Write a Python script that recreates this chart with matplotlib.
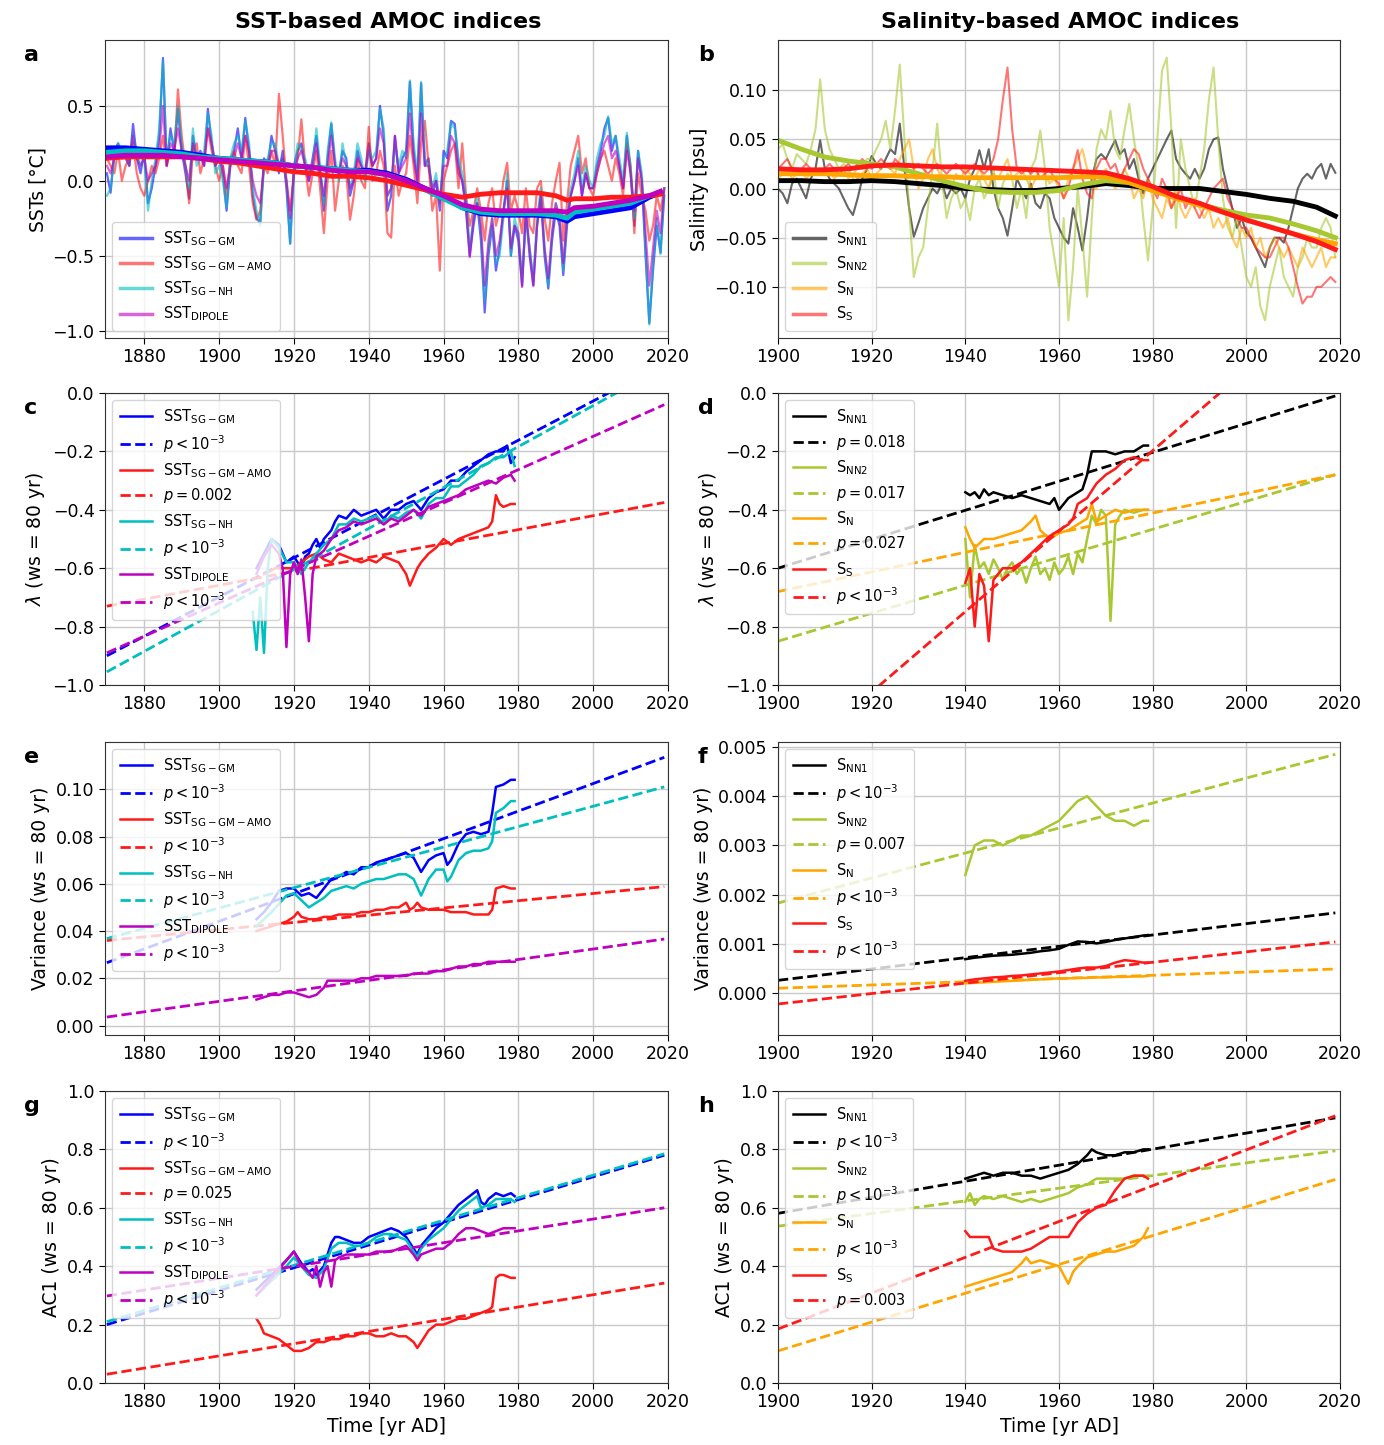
import numpy as np
import matplotlib
matplotlib.use("Agg")
import matplotlib.pyplot as plt

# ---------------- DATA ----------------
yrs_a = np.arange(1870, 2020)
sst_gm = [0.05, -0.08, 0.2, 0.25, 0.15, 0.2, 0.1, 0.38, 0.15, 0.05,
          0.2, -0.15, -0.05, 0.1, 0.3, 0.82, 0.1, 0.35, 0.2, 0.48,
          0.2, 0.05, -0.12, 0.3, 0.15, 0.2, 0.1, 0.48, 0.25, 0.1,
          0.15, 0.05, -0.2, 0.1, 0.2, 0.35, 0.15, 0.42, 0.2, -0.1,
          -0.25, -0.28, 0.15, 0.1, 0.3, 0.2, 0.05, 0.2, -0.05, -0.42,
          0.1, 0.2, 0.25, 0.1, 0.0, 0.15, 0.3, 0.05, -0.2, 0.15,
          0.38, 0.1, 0.05, 0.2, 0.15, -0.1, 0.0, 0.2, 0.1, 0.05,
          0.25, 0.1, 0.15, 0.5, 0.3, -0.2, -0.1, 0.3, 0.05, 0.15,
          0.2, 0.66, 0.2, 0.0, 0.65, 0.1, 0.15, -0.1, 0.0, -0.2,
          0.2, 0.15, 0.4, 0.38, 0.1, 0.0, -0.2, -0.5, -0.3, -0.15,
          -0.4, -0.88, -0.5, -0.3, -0.6, -0.45, -0.2, 0.0, -0.5, -0.3,
          -0.4, -0.7, -0.2, -0.5, -0.7, -0.3, -0.1, -0.5, -0.72, -0.4,
          -0.2, -0.3, -0.63, -0.3, -0.1, 0.0, 0.15, -0.1, 0.05, -0.05,
          -0.05, 0.1, 0.2, 0.35, 0.42, 0.2, 0.3, 0.1, -0.05, 0.3,
          0.05, -0.3, 0.2, 0.0, -0.5, -0.95, -0.6, -0.3, -0.48, -0.1]
sst_amo = [0.15, 0.1, 0.05, 0.2, 0.0, 0.1, 0.15, 0.25, 0.05, -0.05,
           -0.1, 0.0, 0.1, 0.05, 0.15, 0.3, 0.1, 0.2, 0.15, 0.61,
           0.3, 0.1, -0.15, 0.2, 0.25, 0.05, 0.15, 0.35, 0.2, 0.1,
           0.0, 0.1, -0.1, 0.15, 0.2, 0.1, 0.05, 0.3, 0.1, -0.15,
           -0.26, -0.2, 0.1, 0.05, 0.2, 0.1, 0.58, 0.3, 0.0, -0.2,
           0.05, 0.15, 0.41, 0.1, -0.1, 0.05, 0.2, -0.05, -0.35, 0.0,
           0.2, -0.2, 0.0, 0.1, 0.05, -0.26, -0.1, 0.15, 0.0, -0.05,
           0.36, 0.0, 0.05, 0.2, 0.1, -0.35, -0.38, 0.1, -0.1, 0.0,
           0.05, 0.3, 0.1, -0.15, 0.25, 0.4, 0.1, -0.2, -0.1, -0.6,
           0.0, 0.1, 0.2, 0.25, -0.05, 0.25, -0.1, -0.3, -0.2, -0.05,
           -0.2, -0.4, -0.15, -0.05, -0.3, -0.2, 0.0, 0.12, -0.2, -0.1,
           -0.2, -0.35, -0.05, -0.3, -0.35, -0.05, 0.0, -0.25, -0.4, -0.15,
           0.0, 0.12, -0.4, -0.15, 0.1, 0.2, 0.3, 0.05, 0.15, -0.05,
           -0.1, 0.05, 0.15, 0.2, 0.1, 0.0, 0.15, 0.05, -0.1, 0.25,
           0.1, -0.35, 0.05, -0.1, -0.2, -0.4, -0.3, -0.1, -0.2, -0.05]
sst_nh = [-0.1, -0.05, 0.15, 0.25, 0.2, 0.15, 0.1, 0.3, 0.2, 0.1,
          0.15, -0.2, 0.0, 0.15, 0.35, 0.8, 0.15, 0.3, 0.25, 0.5,
          0.25, 0.1, -0.05, 0.35, 0.1, 0.15, 0.2, 0.45, 0.3, 0.05,
          0.1, 0.0, -0.18, 0.15, 0.25, 0.3, 0.2, 0.4, 0.25, -0.05,
          -0.2, -0.3, 0.1, 0.15, 0.25, 0.25, 0.1, 0.15, 0.0, -0.42,
          0.05, 0.25, 0.2, 0.15, 0.05, 0.1, 0.35, 0.1, -0.15, 0.2,
          0.39, 0.15, 0.0, 0.25, 0.1, -0.05, 0.05, 0.25, 0.15, 0.0,
          0.2, 0.15, 0.2, 0.48, 0.35, -0.1, -0.05, 0.25, 0.1, 0.2,
          0.15, 0.67, 0.25, 0.05, 0.66, 0.15, 0.1, -0.05, 0.05, -0.15,
          0.15, 0.2, 0.39, 0.35, 0.15, 0.05, -0.1, -0.45, -0.25, -0.1,
          -0.35, -0.8, -0.45, -0.25, -0.55, -0.5, -0.25, 0.05, -0.5, -0.25,
          -0.35, -0.65, -0.25, -0.45, -0.65, -0.25, -0.05, -0.45, -0.7, -0.35,
          -0.15, -0.25, -0.6, -0.25, -0.05, 0.05, 0.2, -0.05, 0.1, 0.0,
          -0.05, 0.15, 0.25, 0.3, 0.43, 0.25, 0.3, 0.15, 0.0, 0.32,
          0.1, -0.25, 0.2, 0.05, -0.45, -0.96, -0.55, -0.25, -0.49, -0.05]
sst_dip = [0.1, 0.05, 0.15, 0.2, 0.15, 0.15, 0.1, 0.3, 0.15, 0.1,
           0.15, 0.0, 0.05, 0.1, 0.2, 0.5, 0.1, 0.25, 0.2, 0.35,
           0.2, 0.1, 0.0, 0.25, 0.15, 0.15, 0.1, 0.35, 0.25, 0.1,
           0.15, 0.1, -0.05, 0.1, 0.15, 0.25, 0.15, 0.3, 0.2, 0.0,
           -0.1, -0.15, 0.1, 0.1, 0.2, 0.2, 0.1, 0.15, 0.0, -0.25,
           0.05, 0.15, 0.2, 0.1, 0.0, 0.1, 0.25, 0.05, -0.1, 0.1,
           0.3, 0.1, 0.05, 0.15, 0.1, -0.05, 0.0, 0.15, 0.1, 0.05,
           0.2, 0.1, 0.15, 0.35, 0.25, -0.1, -0.05, 0.3, 0.05, 0.1,
           0.15, 0.45, 0.15, 0.0, 0.45, 0.1, 0.1, -0.05, 0.0, -0.15,
           0.1, 0.1, 0.3, 0.25, 0.05, 0.0, -0.15, -0.51, -0.25, -0.15,
           -0.3, -0.7, -0.4, -0.25, -0.5, -0.4, -0.2, -0.05, -0.45, -0.3,
           -0.35, -0.71, -0.2, -0.45, -0.7, -0.3, -0.1, -0.45, -0.65, -0.35,
           -0.15, -0.25, -0.55, -0.25, -0.1, 0.0, 0.1, -0.1, 0.05, -0.05,
           -0.05, 0.05, 0.15, 0.25, 0.3, 0.15, 0.2, 0.1, -0.05, 0.2,
           0.05, -0.2, 0.15, 0.0, -0.35, -0.7, -0.45, -0.2, -0.35, -0.05]

yrs_as = [1870, 1875, 1880, 1885, 1890, 1895, 1900, 1905, 1910, 1915, 1920, 1925,
          1930, 1935, 1940, 1945, 1950, 1955, 1960, 1965, 1970, 1975, 1980, 1985,
          1990, 1993, 1995, 2000, 2005, 2010, 2015, 2018]
sm_gm = [0.22, 0.22, 0.21, 0.2, 0.19, 0.17, 0.15, 0.14, 0.13, 0.12, 0.1, 0.09,
         0.08, 0.07, 0.07, 0.05, 0.01, -0.05, -0.11, -0.18, -0.22, -0.23, -0.23, -0.23,
         -0.24, -0.27, -0.24, -0.22, -0.2, -0.18, -0.11, -0.08]
sm_amo = [0.15, 0.16, 0.16, 0.16, 0.16, 0.15, 0.13, 0.12, 0.1, 0.08, 0.06, 0.05,
          0.03, 0.03, 0.02, 0.0, -0.03, -0.06, -0.09, -0.11, -0.09, -0.08, -0.08, -0.08,
          -0.1, -0.13, -0.12, -0.12, -0.11, -0.11, -0.1, -0.09]
sm_nh = [0.19, 0.2, 0.2, 0.19, 0.18, 0.16, 0.15, 0.14, 0.13, 0.12, 0.1, 0.09,
         0.08, 0.07, 0.06, 0.04, 0.0, -0.06, -0.12, -0.18, -0.21, -0.22, -0.22, -0.22,
         -0.23, -0.25, -0.21, -0.19, -0.17, -0.15, -0.1, -0.08]
sm_dip = [0.16, 0.17, 0.17, 0.17, 0.16, 0.15, 0.14, 0.13, 0.12, 0.11, 0.1, 0.09,
          0.07, 0.06, 0.06, 0.04, 0.0, -0.05, -0.1, -0.16, -0.19, -0.2, -0.2, -0.2,
          -0.2, -0.21, -0.18, -0.17, -0.15, -0.13, -0.1, -0.07]

yrs_b = np.arange(1900, 2020)
s_nn1 = [0.0, -0.005, -0.015, 0.005, 0.01, 0.0, -0.01, 0.01, 0.02, 0.049,
         0.02, 0.01, 0.005, 0.0, -0.01, -0.02, -0.027, -0.01, 0.01, 0.02,
         0.033, 0.025, 0.02, 0.03, 0.04, 0.035, 0.066, 0.02, -0.02, -0.049,
         -0.035, -0.02, -0.01, 0.0, -0.005, 0.005, -0.01, 0.0, -0.005, 0.0,
         -0.01, 0.01, 0.02, 0.039, 0.02, 0.04, 0.0, -0.02, -0.03, -0.048,
         -0.02, 0.01, 0.0, -0.01, 0.005, -0.015, -0.02, -0.005, -0.01, -0.03,
         -0.04, -0.05, -0.056, -0.02, -0.04, -0.063, -0.03, 0.01, 0.03, 0.035,
         0.03, 0.04, 0.049, 0.035, 0.04, 0.02, 0.03, 0.01, -0.005, 0.01,
         0.02, 0.03, 0.04, 0.05, 0.059, 0.03, 0.021, 0.015, 0.01, 0.02,
         0.01, 0.02, 0.04, 0.05, 0.052, 0.02, 0.0, -0.02, -0.04, -0.03,
         -0.045, -0.05, -0.06, -0.07, -0.08, -0.06, -0.05, -0.05, -0.055, -0.04,
         -0.02, 0.0, 0.01, 0.015, 0.01, 0.02, 0.025, 0.01, 0.025, 0.016]
s_nn2 = [0.04, 0.045, 0.03, 0.02, 0.035, 0.03, 0.025, 0.04, 0.06, 0.111,
         0.06, 0.04, 0.03, 0.02, 0.025, 0.02, 0.01, 0.025, 0.02, 0.03,
         0.03, 0.04, 0.05, 0.069, 0.04, 0.08, 0.126, 0.05, -0.02, -0.09,
         -0.07, -0.06, -0.02, 0.02, 0.066, 0.01, -0.03, -0.01, 0.0, -0.02,
         -0.01, -0.032, 0.0, 0.01, -0.01, 0.0, 0.02, -0.02, 0.005, 0.015,
         0.01, -0.02, 0.0, -0.03, 0.02, 0.03, 0.059, 0.02, -0.04, -0.07,
         -0.1, -0.03, -0.134, -0.08, 0.0, -0.05, -0.11, -0.03, 0.04, 0.06,
         0.05, 0.079, 0.04, 0.03, 0.06, 0.086, 0.05, 0.02, -0.03, -0.073,
         -0.02, 0.05, 0.12, 0.133, 0.06, -0.04, 0.05, 0.02, 0.0, -0.02,
         0.01, 0.04, 0.09, 0.123, 0.05, -0.01, -0.039, -0.05, -0.03, -0.06,
         -0.09, -0.1, -0.08, -0.12, -0.134, -0.1, -0.08, -0.06, -0.09, -0.1,
         -0.11, -0.08, -0.07, -0.05, -0.06, -0.06, -0.04, -0.03, -0.04, -0.07]
s_n = [0.01, 0.015, 0.02, 0.01, 0.015, 0.02, 0.01, 0.015, 0.02, 0.02,
       0.015, 0.02, 0.01, 0.015, 0.02, 0.01, 0.015, 0.01, 0.015, 0.02,
       0.01, 0.015, 0.02, 0.025, 0.02, 0.015, 0.03, 0.04, 0.05, 0.02,
       0.0, 0.01, 0.03, 0.04, 0.02, 0.01, 0.005, 0.0, 0.015, 0.01,
       0.02, 0.015, 0.01, 0.02, 0.01, 0.0, 0.015, 0.01, 0.02, 0.03,
       0.01, 0.015, 0.02, 0.01, 0.0, 0.01, 0.02, 0.015, 0.005, 0.01,
       0.0, -0.01, 0.01, 0.02, 0.03, 0.04, 0.02, 0.01, 0.0, 0.01,
       0.02, 0.01, 0.0, 0.005, 0.02, 0.01, -0.01, 0.0, -0.01, 0.01,
       -0.01, -0.02, -0.03, -0.01, -0.02, 0.0, -0.02, -0.03, -0.02, -0.01,
       -0.02, -0.03, -0.02, -0.04, -0.03, -0.04, -0.03, -0.05, -0.06, -0.04,
       -0.05, -0.04, -0.06, -0.05, -0.07, -0.06, -0.05, -0.06, -0.07, -0.06,
       -0.07, -0.08, -0.06, -0.07, -0.08, -0.07, -0.06, -0.08, -0.07, -0.07]
s_s = [0.02, 0.025, 0.03, 0.02, 0.015, 0.02, 0.025, 0.02, 0.015, 0.02,
       0.02, 0.025, 0.02, 0.015, 0.02, 0.025, 0.02, 0.025, 0.03, 0.025,
       0.02, 0.025, 0.03, 0.025, 0.02, 0.03, 0.025, 0.02, 0.025, 0.02,
       0.025, 0.02, 0.015, 0.02, 0.025, 0.02, 0.015, 0.02, 0.025, 0.02,
       0.015, 0.02, 0.025, 0.02, 0.015, 0.02, 0.03, 0.05, 0.09, 0.123,
       0.06, 0.02, 0.015, 0.02, 0.015, 0.02, 0.01, 0.015, 0.02, 0.01,
       0.005, -0.01, 0.0, 0.02, 0.039, 0.01, -0.005, -0.01, 0.02, 0.03,
       0.03, 0.02, 0.025, 0.01, 0.02, 0.03, 0.04, 0.035, 0.02, 0.01,
       0.0, -0.01, 0.01, 0.0, -0.02, -0.01, 0.0, -0.02, -0.01, -0.02,
       -0.03, -0.02, -0.01, 0.0, 0.005, 0.01, -0.01, -0.02, -0.03, -0.04,
       -0.04, -0.05, -0.06, -0.065, -0.07, -0.07, -0.06, -0.05, -0.05, -0.06,
       -0.08, -0.1, -0.117, -0.11, -0.11, -0.1, -0.1, -0.095, -0.09, -0.095]

yrs_bs = [1900, 1905, 1910, 1915, 1920, 1925, 1930, 1935, 1940, 1945, 1950, 1955,
          1960, 1965, 1970, 1975, 1980, 1985, 1990, 1995, 2000, 2005, 2010, 2015, 2019]
sm_nn1 = [0.008, 0.008, 0.007, 0.007, 0.008, 0.007, 0.005, 0.003, 0.0, -0.001, -0.002, -0.002,
          0.0, 0.002, 0.005, 0.003, 0.0, 0.0, 0.0, -0.003, -0.006, -0.01, -0.013, -0.019, -0.028]
sm_nn2 = [0.049, 0.04, 0.032, 0.028, 0.025, 0.022, 0.015, 0.008, 0.002, -0.003, -0.004, -0.004,
          -0.002, 0.004, 0.008, 0.006, -0.002, -0.009, -0.016, -0.022, -0.027, -0.03, -0.036, -0.043, -0.05]
sm_n = [0.015, 0.015, 0.015, 0.014, 0.013, 0.013, 0.012, 0.012, 0.011, 0.011, 0.011, 0.011,
        0.011, 0.012, 0.012, 0.006, -0.002, -0.01, -0.017, -0.024, -0.032, -0.039, -0.046, -0.052, -0.056]
sm_s = [0.02, 0.019, 0.019, 0.02, 0.023, 0.024, 0.023, 0.022, 0.022, 0.021, 0.02, 0.019,
        0.018, 0.017, 0.016, 0.01, 0.002, -0.008, -0.015, -0.024, -0.032, -0.039, -0.046, -0.054, -0.062]

# --- sliding-window indicators (ws = 80 yr), SST-based (left) ---
c_gm_t = [1910, 1912, 1914, 1916, 1918, 1920, 1921, 1922, 1923, 1924, 1925, 1926, 1927, 1928, 1930, 1931,
          1932, 1934, 1936, 1938, 1940, 1942, 1944, 1946, 1948, 1950, 1952, 1954, 1956, 1958, 1960, 1962,
          1964, 1966, 1968, 1970, 1972, 1974, 1976, 1977, 1978, 1979]
c_gm_v = [-0.6, -0.55, -0.5, -0.52, -0.58, -0.56, -0.58, -0.6, -0.56, -0.55, -0.52, -0.5, -0.53, -0.5, -0.47, -0.44,
          -0.42, -0.43, -0.4, -0.42, -0.41, -0.4, -0.43, -0.4, -0.4, -0.38, -0.37, -0.4, -0.36, -0.34, -0.33, -0.3,
          -0.3, -0.27, -0.25, -0.23, -0.21, -0.2, -0.2, -0.18, -0.24, -0.22]
c_amo_t = [1912, 1915, 1918, 1920, 1922, 1924, 1926, 1928, 1930, 1932, 1934, 1936, 1938, 1940, 1942, 1944,
           1946, 1948, 1950, 1951, 1952, 1953, 1954, 1956, 1958, 1960, 1962, 1964, 1966, 1968, 1970, 1972,
           1973, 1974, 1975, 1976, 1978, 1979]
c_amo_v = [-0.62, -0.6, -0.6, -0.6, -0.58, -0.56, -0.55, -0.57, -0.58, -0.55, -0.56, -0.57, -0.58, -0.57, -0.58, -0.56,
           -0.57, -0.58, -0.62, -0.66, -0.63, -0.6, -0.58, -0.55, -0.53, -0.5, -0.52, -0.5, -0.49, -0.48, -0.47, -0.46,
           -0.44, -0.35, -0.38, -0.39, -0.38, -0.38]
c_nh_t = [1909, 1910, 1911, 1912, 1913, 1914, 1916, 1918, 1920, 1922, 1924, 1926, 1928, 1930, 1932, 1934,
          1936, 1938, 1940, 1942, 1944, 1946, 1948, 1950, 1952, 1954, 1956, 1958, 1960, 1962, 1964, 1966,
          1968, 1970, 1972, 1974, 1976, 1978, 1979]
c_nh_v = [-0.75, -0.88, -0.7, -0.89, -0.6, -0.5, -0.53, -0.58, -0.58, -0.62, -0.58, -0.55, -0.52, -0.5, -0.45, -0.45,
          -0.43, -0.44, -0.43, -0.42, -0.45, -0.42, -0.43, -0.41, -0.4, -0.43, -0.38, -0.36, -0.36, -0.32, -0.32, -0.3,
          -0.28, -0.25, -0.24, -0.22, -0.22, -0.2, -0.25]
c_dip_t = [1910, 1912, 1914, 1916, 1917, 1918, 1919, 1920, 1921, 1922, 1923, 1924, 1925, 1926, 1928, 1930,
           1932, 1934, 1936, 1938, 1940, 1942, 1944, 1946, 1948, 1950, 1952, 1954, 1956, 1958, 1960, 1962,
           1964, 1966, 1968, 1970, 1972, 1974, 1976, 1978, 1979]
c_dip_v = [-0.62, -0.56, -0.52, -0.55, -0.6, -0.87, -0.62, -0.58, -0.62, -0.57, -0.7, -0.85, -0.62, -0.56, -0.54, -0.5,
           -0.47, -0.46, -0.44, -0.45, -0.44, -0.43, -0.45, -0.43, -0.44, -0.42, -0.4, -0.42, -0.39, -0.38, -0.37, -0.36,
           -0.35, -0.33, -0.32, -0.31, -0.3, -0.31, -0.29, -0.28, -0.3]

e_gm_t = [1910, 1912, 1914, 1916, 1918, 1920, 1922, 1924, 1926, 1928, 1930, 1932, 1934, 1936, 1938, 1940,
          1942, 1944, 1946, 1948, 1950, 1952, 1954, 1956, 1958, 1960, 1961, 1962, 1964, 1966, 1968, 1970,
          1972, 1973, 1974, 1976, 1978, 1979]
e_gm_v = [0.045, 0.048, 0.052, 0.057, 0.058, 0.058, 0.055, 0.056, 0.054, 0.058, 0.062, 0.063, 0.065, 0.064, 0.067, 0.067,
          0.069, 0.07, 0.071, 0.072, 0.073, 0.071, 0.065, 0.07, 0.072, 0.073, 0.068, 0.07, 0.077, 0.081, 0.082, 0.081,
          0.082, 0.09, 0.101, 0.102, 0.104, 0.104]
e_nh_t = [1910, 1914, 1918, 1920, 1922, 1924, 1926, 1928, 1930, 1932, 1934, 1936, 1938, 1940, 1942, 1944,
          1946, 1948, 1950, 1952, 1954, 1956, 1958, 1960, 1961, 1962, 1964, 1966, 1968, 1970, 1972, 1973,
          1974, 1976, 1978, 1979]
e_nh_v = [0.042, 0.048, 0.055, 0.056, 0.053, 0.05, 0.052, 0.054, 0.057, 0.058, 0.059, 0.058, 0.06, 0.061, 0.062, 0.062,
          0.063, 0.064, 0.064, 0.062, 0.055, 0.062, 0.066, 0.066, 0.061, 0.063, 0.07, 0.073, 0.074, 0.074, 0.075, 0.078,
          0.09, 0.092, 0.095, 0.095]
e_amo_t = [1910, 1914, 1918, 1920, 1921, 1922, 1924, 1926, 1928, 1930, 1932, 1934, 1936, 1938, 1940, 1942,
           1944, 1946, 1948, 1950, 1951, 1952, 1953, 1954, 1956, 1958, 1960, 1962, 1964, 1966, 1968, 1970,
           1972, 1973, 1974, 1976, 1978, 1979]
e_amo_v = [0.04, 0.042, 0.044, 0.046, 0.048, 0.046, 0.045, 0.045, 0.046, 0.046, 0.047, 0.047, 0.047, 0.048, 0.048, 0.049,
           0.049, 0.05, 0.05, 0.052, 0.049, 0.05, 0.052, 0.05, 0.049, 0.049, 0.049, 0.048, 0.048, 0.048, 0.047, 0.047,
           0.047, 0.049, 0.058, 0.059, 0.058, 0.058]
e_dip_t = [1910, 1912, 1914, 1916, 1918, 1920, 1922, 1924, 1926, 1928, 1929, 1930, 1932, 1934, 1936, 1938,
           1940, 1942, 1944, 1946, 1948, 1950, 1952, 1954, 1956, 1958, 1960, 1962, 1964, 1966, 1968, 1970,
           1972, 1974, 1976, 1978, 1979]
e_dip_v = [0.011, 0.012, 0.013, 0.013, 0.014, 0.014, 0.013, 0.012, 0.013, 0.016, 0.019, 0.019, 0.019, 0.019, 0.019, 0.02,
           0.02, 0.021, 0.021, 0.021, 0.021, 0.021, 0.022, 0.022, 0.022, 0.023, 0.023, 0.024, 0.025, 0.025, 0.026, 0.026,
           0.027, 0.027, 0.027, 0.027, 0.027]

g_gm_t = [1910, 1914, 1918, 1920, 1921, 1922, 1924, 1925, 1926, 1928, 1929, 1930, 1931, 1932, 1934, 1936,
          1938, 1940, 1942, 1944, 1946, 1948, 1950, 1952, 1953, 1954, 1956, 1958, 1960, 1962, 1964, 1966,
          1968, 1969, 1970, 1971, 1972, 1974, 1976, 1978, 1979]
g_gm_v = [0.32, 0.37, 0.42, 0.45, 0.43, 0.41, 0.38, 0.39, 0.37, 0.4, 0.44, 0.48, 0.5, 0.5, 0.49, 0.48,
          0.48, 0.5, 0.51, 0.52, 0.53, 0.52, 0.5, 0.46, 0.44, 0.47, 0.5, 0.53, 0.55, 0.58, 0.61, 0.63,
          0.65, 0.66, 0.62, 0.61, 0.63, 0.65, 0.64, 0.65, 0.64]
g_nh_t = [1910, 1914, 1918, 1920, 1922, 1924, 1926, 1928, 1930, 1932, 1934, 1936, 1938, 1940, 1942, 1944,
          1946, 1948, 1950, 1952, 1953, 1954, 1956, 1958, 1960, 1962, 1964, 1966, 1968, 1969, 1970, 1972,
          1974, 1976, 1978, 1979]
g_nh_v = [0.3, 0.35, 0.4, 0.43, 0.4, 0.37, 0.36, 0.39, 0.46, 0.48, 0.48, 0.47, 0.47, 0.48, 0.5, 0.51,
          0.51, 0.5, 0.49, 0.45, 0.43, 0.46, 0.49, 0.51, 0.53, 0.56, 0.59, 0.61, 0.63, 0.64, 0.6, 0.61,
          0.63, 0.63, 0.63, 0.62]
g_amo_t = [1910, 1911, 1912, 1914, 1916, 1918, 1920, 1922, 1924, 1926, 1928, 1930, 1932, 1934, 1936, 1938,
           1940, 1942, 1944, 1946, 1948, 1950, 1952, 1953, 1954, 1956, 1958, 1960, 1962, 1964, 1966, 1968,
           1970, 1972, 1973, 1974, 1975, 1976, 1978, 1979]
g_amo_v = [0.22, 0.2, 0.17, 0.16, 0.15, 0.13, 0.11, 0.11, 0.12, 0.14, 0.14, 0.15, 0.15, 0.16, 0.16, 0.17,
           0.17, 0.16, 0.16, 0.17, 0.16, 0.16, 0.14, 0.12, 0.14, 0.18, 0.2, 0.2, 0.21, 0.22, 0.22, 0.23,
           0.24, 0.25, 0.26, 0.36, 0.37, 0.37, 0.36, 0.36]
g_dip_t = [1910, 1914, 1918, 1920, 1922, 1924, 1925, 1926, 1927, 1928, 1929, 1930, 1931, 1932, 1934, 1936,
           1938, 1940, 1942, 1944, 1946, 1948, 1950, 1952, 1953, 1954, 1956, 1958, 1960, 1962, 1964, 1966,
           1968, 1970, 1972, 1974, 1976, 1978, 1979]
g_dip_v = [0.3, 0.36, 0.42, 0.45, 0.4, 0.38, 0.36, 0.4, 0.33, 0.38, 0.4, 0.33, 0.42, 0.43, 0.44, 0.44,
           0.44, 0.44, 0.45, 0.45, 0.45, 0.46, 0.47, 0.44, 0.42, 0.44, 0.45, 0.46, 0.46, 0.48, 0.51, 0.53,
           0.53, 0.52, 0.51, 0.52, 0.53, 0.53, 0.53]

# --- salinity-based (right) ---
d_nn1_t = [1940, 1941, 1942, 1943, 1944, 1945, 1946, 1948, 1950, 1952, 1954, 1956, 1958, 1959, 1960, 1961,
           1962, 1963, 1965, 1966, 1967, 1968, 1970, 1972, 1974, 1976, 1978, 1979]
d_nn1_v = [-0.34, -0.35, -0.34, -0.36, -0.33, -0.35, -0.34, -0.35, -0.36, -0.35, -0.36, -0.37, -0.38, -0.36, -0.4, -0.38,
           -0.36, -0.35, -0.33, -0.28, -0.2, -0.2, -0.2, -0.21, -0.2, -0.2, -0.18, -0.18]
d_nn2_t = list(range(1940, 1975)) + [1976, 1978, 1979]
d_nn2_v = [-0.5, -0.7, -0.52, -0.6, -0.58, -0.62, -0.57, -0.6, -0.64, -0.6, -0.58, -0.62, -0.6, -0.65, -0.6, -0.56,
           -0.62, -0.6, -0.64, -0.58, -0.62, -0.6, -0.56, -0.62, -0.55, -0.58, -0.5, -0.42, -0.45, -0.4, -0.42, -0.78,
           -0.45, -0.42, -0.4, -0.41, -0.4, -0.4]
d_n_t = [1940, 1941, 1942, 1944, 1946, 1948, 1950, 1952, 1954, 1955, 1956, 1958, 1960, 1962, 1964, 1966,
         1967, 1968, 1970, 1972, 1974, 1976, 1978, 1979]
d_n_v = [-0.46, -0.5, -0.53, -0.5, -0.5, -0.49, -0.48, -0.47, -0.44, -0.42, -0.47, -0.5, -0.48, -0.47, -0.45, -0.43,
         -0.38, -0.44, -0.42, -0.4, -0.41, -0.4, -0.4, -0.4]
d_s_t = [1940, 1941, 1942, 1943, 1944, 1945, 1946, 1947, 1948, 1950, 1952, 1954, 1956, 1958, 1960, 1962,
         1963, 1964, 1966, 1968, 1970, 1972, 1974, 1976, 1978, 1979]
d_s_v = [-0.65, -0.6, -0.8, -0.62, -0.66, -0.85, -0.64, -0.62, -0.6, -0.6, -0.58, -0.55, -0.52, -0.49, -0.47, -0.45,
         -0.43, -0.38, -0.36, -0.31, -0.28, -0.26, -0.23, -0.22, -0.23, -0.23]

f_t = [1940, 1942, 1944, 1946, 1948, 1950, 1952, 1954, 1956, 1958, 1960, 1962, 1964, 1966, 1968, 1970,
       1972, 1974, 1976, 1978, 1979]
f_nn1_v = [0.00069, 0.00072, 0.00074, 0.00076, 0.00077, 0.00078, 0.0008, 0.00082, 0.00085, 0.00087, 0.0009,
           0.00098, 0.00105, 0.00104, 0.00101, 0.00104, 0.00108, 0.00111, 0.00114, 0.00117, 0.00118]
f_nn2_v = [0.0024, 0.003, 0.0031, 0.0031, 0.003, 0.0031, 0.0032, 0.0032, 0.0033, 0.0034, 0.0035,
           0.0037, 0.0039, 0.004, 0.0038, 0.0036, 0.0035, 0.0035, 0.0034, 0.0035, 0.0035]
f_n_v = [0.0002, 0.00021, 0.00022, 0.00023, 0.00024, 0.00025, 0.00026, 0.00027, 0.00028, 0.00029, 0.0003,
         0.0003, 0.00031, 0.00031, 0.00032, 0.00032, 0.00033, 0.00033, 0.00034, 0.00034, 0.00035]
f_s_v = [0.00025, 0.00028, 0.0003, 0.00032, 0.00033, 0.00035, 0.00036, 0.00038, 0.0004, 0.00042, 0.00044,
         0.00047, 0.0005, 0.00052, 0.00052, 0.00055, 0.00062, 0.00067, 0.00065, 0.00062, 0.00062]

h_nn1_t = [1940, 1942, 1944, 1946, 1948, 1950, 1952, 1954, 1956, 1958, 1960, 1962, 1964, 1966, 1967, 1968,
           1970, 1972, 1974, 1976, 1978, 1979]
h_nn1_v = [0.7, 0.71, 0.72, 0.71, 0.72, 0.72, 0.71, 0.71, 0.7, 0.71, 0.72, 0.73, 0.75, 0.78, 0.8, 0.79,
           0.78, 0.78, 0.79, 0.79, 0.8, 0.8]
h_nn2_t = [1940, 1941, 1942, 1943, 1944, 1946, 1948, 1950, 1952, 1954, 1956, 1958, 1960, 1962, 1964, 1966,
           1968, 1970, 1972, 1974, 1976, 1978, 1979]
h_nn2_v = [0.62, 0.65, 0.61, 0.63, 0.64, 0.63, 0.64, 0.63, 0.62, 0.63, 0.62, 0.63, 0.64, 0.65, 0.67, 0.68,
           0.7, 0.7, 0.7, 0.7, 0.71, 0.71, 0.71]
h_n_t = [1940, 1942, 1944, 1946, 1948, 1950, 1952, 1953, 1954, 1956, 1958, 1960, 1961, 1962, 1963, 1964,
         1966, 1968, 1970, 1972, 1974, 1976, 1978, 1979]
h_n_v = [0.33, 0.34, 0.35, 0.36, 0.37, 0.38, 0.41, 0.43, 0.41, 0.42, 0.41, 0.4, 0.37, 0.34, 0.38, 0.4,
         0.43, 0.44, 0.45, 0.45, 0.46, 0.47, 0.5, 0.53]
h_s_t = [1940, 1941, 1943, 1945, 1946, 1948, 1950, 1952, 1954, 1956, 1958, 1960, 1962, 1964, 1966, 1968,
         1970, 1972, 1974, 1976, 1978, 1979]
h_s_v = [0.52, 0.5, 0.5, 0.5, 0.46, 0.45, 0.45, 0.45, 0.46, 0.48, 0.5, 0.5, 0.5, 0.55, 0.58, 0.6,
         0.61, 0.66, 0.7, 0.71, 0.71, 0.7]

# linear-fit end values (at first year, at 2019) for SG-GM, SG-GM-AMO, SG-NH, DIPOLE
fit_c = [(-0.90, 0.10), (-0.73, -0.375), (-0.955, 0.09), (-0.89, -0.04)]
fit_e = [(0.0266, 0.1135), (0.036, 0.0588), (0.0368, 0.101), (0.0036, 0.0366)]
fit_g = [(0.20, 0.78), (0.03, 0.342), (0.21, 0.785), (0.298, 0.60)]
# for NN1, NN2, N, S (1900 -> 2019)
fit_d = [(-0.60, -0.01), (-0.85, -0.28), (-0.68, -0.28), (-1.30, 0.34)]
fit_f = [(0.00026, 0.00163), (0.00183, 0.00485), (0.0001, 0.00049), (-0.00022, 0.00104)]
fit_h = [(0.581, 0.908), (0.537, 0.795), (0.11, 0.697), (0.185, 0.915)]

p_c = [r'$p<10^{-3}$', r'$p=0.002$', r'$p<10^{-3}$', r'$p<10^{-3}$']
p_e = [r'$p<10^{-3}$'] * 4
p_g = [r'$p<10^{-3}$', r'$p=0.025$', r'$p<10^{-3}$', r'$p<10^{-3}$']
p_d = [r'$p=0.018$', r'$p=0.017$', r'$p=0.027$', r'$p<10^{-3}$']
p_f = [r'$p<10^{-3}$', r'$p=0.007$', r'$p<10^{-3}$', r'$p<10^{-3}$']
p_h = [r'$p<10^{-3}$', r'$p<10^{-3}$', r'$p<10^{-3}$', r'$p=0.003$']

sst_names = [r'SST$_{\mathrm{SG-GM}}$', r'SST$_{\mathrm{SG-GM-AMO}}$',
             r'SST$_{\mathrm{SG-NH}}$', r'SST$_{\mathrm{DIPOLE}}$']
sal_names = [r'S$_{\mathrm{NN1}}$', r'S$_{\mathrm{NN2}}$', r'S$_{\mathrm{N}}$', r'S$_{\mathrm{S}}$']
sst_cols = ['#0000ff', '#ff1a1a', '#00bfbf', '#bf00bf']
sal_cols = ['#000000', '#a8c832', '#ffa500', '#ff1a1a']

# ---------------- FIGURE ----------------
plt.rcParams['font.family'] = ['DejaVu Sans']
W, H = 1384, 1445
fig = plt.figure(figsize=(W / 100, H / 100), dpi=100)

def px_axes(x0, x1, y0, y1):
    return fig.add_axes([x0 / W, 1 - y1 / H, (x1 - x0) / W, (y1 - y0) / H])

rows = [(40, 338), (393, 685), (742, 1035), (1091, 1383)]
axL = [px_axes(105, 668, r0, r1) for r0, r1 in rows]
axR = [px_axes(778, 1340, r0, r1) for r0, r1 in rows]

XL = (1869.5, 2020)
XR = (1900, 2020)

def style(ax, xl, xticks):
    ax.set_xlim(*xl)
    ax.set_xticks(xticks)
    ax.grid(True, color='#c8c8c8', lw=1.0)
    ax.set_axisbelow(True)
    ax.tick_params(labelsize=12.5, length=4)
    for s in ax.spines.values():
        s.set_color('#333333')

lkw = dict(fontsize=10.5, framealpha=0.8, borderpad=0.5, labelspacing=0.45,
           handlelength=2.2, fancybox=True)

# panel a
ax = axL[0]
for v, c, n in zip([sst_gm, sst_amo, sst_nh, sst_dip], sst_cols, sst_names):
    ax.plot(yrs_a, v, color=c, lw=1.6, alpha=0.6, label=n)
for v, c in zip([sm_gm, sm_nh, sm_amo, sm_dip], [sst_cols[0], sst_cols[2], sst_cols[1], sst_cols[3]]):
    ax.plot(yrs_as, v, color=c, lw=3.5)
ax.set_ylim(-1.05, 0.94)
ax.set_yticks([-1.0, -0.5, 0.0, 0.5])
ax.set_ylabel('SSTs [°C]', fontsize=13.5)
leg = ax.legend(loc='lower left', **lkw)
for l in leg.get_lines():
    l.set_linewidth(2.5)
style(ax, XL, range(1880, 2021, 20))

# panel b
ax = axR[0]
for v, c, n in zip([s_nn1, s_nn2, s_n, s_s], sal_cols, sal_names):
    ax.plot(yrs_b, v, color=c, lw=1.5, alpha=0.6, label=n)
for v, c in zip([sm_nn1, sm_nn2, sm_n, sm_s], sal_cols):
    ax.plot(yrs_bs, v, color=c, lw=3.5)
ax.set_ylim(-0.152, 0.151)
ax.set_yticks([-0.10, -0.05, 0.0, 0.05, 0.10])
ax.set_yticklabels(['−0.10', '−0.05', '0.00', '0.05', '0.10'])
ax.set_ylabel('Salinity [psu]', fontsize=13.5)
leg = ax.legend(loc='lower left', **lkw)
for l in leg.get_lines():
    l.set_linewidth(2.5)
style(ax, XR, range(1900, 2021, 20))

def indicator(ax, series, fits, names, pl, cols, x0, lw_fit=2.0):
    for (t, v), (f0, f1), n, p, c in zip(series, fits, names, pl, cols):
        ax.plot(t, v, color=c, lw=1.8, label=n)
        ax.plot([x0, 2019], [f0, f1], '--', color=c, lw=lw_fit, label=p)
    ax.legend(loc='upper left', **lkw)

# c
indicator(axL[1], [(c_gm_t, c_gm_v), (c_amo_t, c_amo_v), (c_nh_t, c_nh_v), (c_dip_t, c_dip_v)],
          fit_c, sst_names, p_c, sst_cols, 1870)
axL[1].set_ylim(-1.0, 0.0)
axL[1].set_ylabel(r'$\lambda$ (ws = 80 yr)', fontsize=13.5)
style(axL[1], XL, range(1880, 2021, 20))
# e
indicator(axL[2], [(e_gm_t, e_gm_v), (e_amo_t, e_amo_v), (e_nh_t, e_nh_v), (e_dip_t, e_dip_v)],
          fit_e, sst_names, p_e, sst_cols, 1870)
axL[2].set_ylim(-0.004, 0.12)
axL[2].set_yticks([0.0, 0.02, 0.04, 0.06, 0.08, 0.10])
axL[2].set_ylabel('Variance (ws = 80 yr)', fontsize=13.5)
style(axL[2], XL, range(1880, 2021, 20))
# g
indicator(axL[3], [(g_gm_t, g_gm_v), (g_amo_t, g_amo_v), (g_nh_t, g_nh_v), (g_dip_t, g_dip_v)],
          fit_g, sst_names, p_g, sst_cols, 1870)
axL[3].set_ylim(0.0, 1.0)
axL[3].set_ylabel('AC1 (ws = 80 yr)', fontsize=13.5)
axL[3].set_xlabel('Time [yr AD]', fontsize=13.5)
style(axL[3], XL, range(1880, 2021, 20))

# d
indicator(axR[1], [(d_nn1_t, d_nn1_v), (d_nn2_t, d_nn2_v), (d_n_t, d_n_v), (d_s_t, d_s_v)],
          fit_d, sal_names, p_d, sal_cols, 1900)
axR[1].set_ylim(-1.0, 0.0)
axR[1].set_ylabel(r'$\lambda$ (ws = 80 yr)', fontsize=13.5)
style(axR[1], XR, range(1900, 2021, 20))
# f
indicator(axR[2], [(f_t, f_nn1_v), (f_t, f_nn2_v), (f_t, f_n_v), (f_t, f_s_v)],
          fit_f, sal_names, p_f, sal_cols, 1900)
axR[2].set_ylim(-0.00085, 0.0051)
axR[2].set_yticks([0.0, 0.001, 0.002, 0.003, 0.004, 0.005])
axR[2].set_ylabel('Variance (ws = 80 yr)', fontsize=13.5)
style(axR[2], XR, range(1900, 2021, 20))
# h
indicator(axR[3], [(h_nn1_t, h_nn1_v), (h_nn2_t, h_nn2_v), (h_n_t, h_n_v), (h_s_t, h_s_v)],
          fit_h, sal_names, p_h, sal_cols, 1900)
axR[3].set_ylim(0.0, 1.0)
axR[3].set_ylabel('AC1 (ws = 80 yr)', fontsize=13.5)
axR[3].set_xlabel('Time [yr AD]', fontsize=13.5)
style(axR[3], XR, range(1900, 2021, 20))

letters = 'acegbdfh'
for ax, L in zip(axL + axR, letters):
    ax.text(-0.143, 0.95, L, transform=ax.transAxes, fontsize=16, fontweight='bold',
            ha='left', va='center')

fig.text(388 / W, 1 - 22 / H, 'SST-based AMOC indices', ha='center', va='center',
         fontsize=16, fontweight='bold')
fig.text(1060 / W, 1 - 22 / H, 'Salinity-based AMOC indices', ha='center', va='center',
         fontsize=16, fontweight='bold')

fig.savefig('out.png', dpi=100)
